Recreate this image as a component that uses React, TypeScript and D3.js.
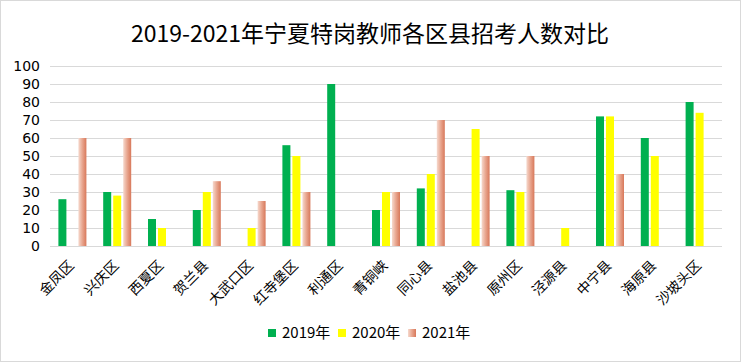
import React, { useEffect, useRef } from 'react';
import * as d3 from 'd3';

const categories = ['金凤区', '兴庆区', '西夏区', '贺兰县', '大武口区', '红寺堡区', '利通区', '青铜峡', '同心县', '盐池县', '原州区', '泾源县', '中宁县', '海原县', '沙坡头区'];
const seriesNames = ['2019年', '2020年', '2021年'];
const values2019 = [26, 30, 15, 20, null, 56, 90, 20, 32, null, 31, null, 72, 60, 80];
const values2020 = [null, 28, 10, 30, 10, 50, null, 30, 40, 65, 30, 10, 72, 50, 74];
const values2021 = [60, 60, null, 36, 25, 30, null, 30, 70, 50, 50, null, 40, null, null];
const yTicks = [0, 10, 20, 30, 40, 50, 60, 70, 80, 90, 100];

const FONT = '"Noto Sans CJK SC", "Microsoft YaHei", sans-serif';
const NUM_FONT = '"DejaVu Sans", sans-serif';

export default function App() {
  const svgRef = useRef<SVGSVGElement>(null);

  useEffect(() => {
    if (!svgRef.current) return;
    const svg = d3.select(svgRef.current);
    svg.selectAll('*').remove();

    const width = 741;
    const height = 362;
    const left = 50, right = 722, top = 66, bottom = 246;

    // gradient for the 2021 bars (light on the left, salmon on the right)
    const defs = svg.append('defs');
    const grad = defs.append('linearGradient').attr('id', 'g2021')
      .attr('x1', '0').attr('x2', '1').attr('y1', '0').attr('y2', '0');
    grad.append('stop').attr('offset', '0%').attr('stop-color', '#f6d9cd');
    grad.append('stop').attr('offset', '50%').attr('stop-color', '#e8a58e');
    grad.append('stop').attr('offset', '100%').attr('stop-color', '#d8785a');

    const fills = ['#00b050', '#ffff00', 'url(#g2021)'];

    svg.append('rect')
      .attr('x', 0.5).attr('y', 0.5)
      .attr('width', width - 1).attr('height', height - 1)
      .attr('fill', '#fff').attr('stroke', '#d9d9d9');

    svg.append('text')
      .attr('x', 370).attr('y', 42)
      .attr('text-anchor', 'middle')
      .style('font-family', FONT).style('font-size', '23px')
      .attr('fill', '#000')
      .text('2019-2021年宁夏特岗教师各区县招考人数对比');

    const x0 = d3.scaleBand<string>().domain(categories).range([left, right])
      .paddingInner(0.375).paddingOuter(0.1875);
    const x1 = d3.scaleBand<string>().domain(seriesNames).range([0, x0.bandwidth()])
      .paddingInner(0.2).paddingOuter(0);
    const y = d3.scaleLinear().domain([0, 100]).range([bottom, top]);

    // gridlines
    svg.append('g').selectAll('line').data(yTicks).join('line')
      .attr('x1', left).attr('x2', right)
      .attr('y1', d => Math.round(y(d)) + 0.5).attr('y2', d => Math.round(y(d)) + 0.5)
      .attr('stroke', '#d9d9d9').attr('stroke-width', 1);

    // y tick labels
    svg.append('g').selectAll('text').data(yTicks).join('text')
      .attr('x', 40).attr('y', d => y(d))
      .attr('dy', '0.36em')
      .attr('text-anchor', 'end')
      .style('font-family', NUM_FONT).style('font-size', '14px')
      .attr('fill', '#000')
      .text(d => d);

    const allSeries = [values2019, values2020, values2021];
    allSeries.forEach((vals, si) => {
      const rows = categories.map((c, i) => ({ c, v: vals[i] })).filter(d => d.v != null);
      svg.append('g').selectAll('rect').data(rows).join('rect')
        .attr('x', d => (x0(d.c) as number) + (x1(seriesNames[si]) as number))
        .attr('y', d => y(d.v as number))
        .attr('width', x1.bandwidth())
        .attr('height', d => bottom - y(d.v as number))
        .attr('fill', fills[si]);
    });

    // x labels, rotated
    svg.append('g').selectAll('text').data(categories).join('text')
      .attr('transform', d => `translate(${(x0(d) as number) + x0.bandwidth() / 2 - 1},${bottom + 17}) rotate(-45)`)
      .attr('text-anchor', 'end')
      .attr('dy', '0.35em')
      .style('font-family', FONT).style('font-size', '14px')
      .attr('fill', '#000')
      .text(d => d);

    // legend
    const legendX = [268, 338, 408];
    const legend = svg.append('g');
    seriesNames.forEach((s, i) => {
      legend.append('rect')
        .attr('x', legendX[i]).attr('y', 329)
        .attr('width', 8).attr('height', 8)
        .attr('fill', fills[i]);
      legend.append('text')
        .attr('x', legendX[i] + 14).attr('y', 333)
        .attr('dy', '0.35em')
        .style('font-family', FONT).style('font-size', '15px')
        .attr('fill', '#000')
        .text(s);
    });
  }, []);

  return (
    <div style={{ position: 'absolute', left: 0, top: 0 }}>
      <svg ref={svgRef} width={741} height={362} style={{ display: 'block' }}></svg>
    </div>
  );
}
